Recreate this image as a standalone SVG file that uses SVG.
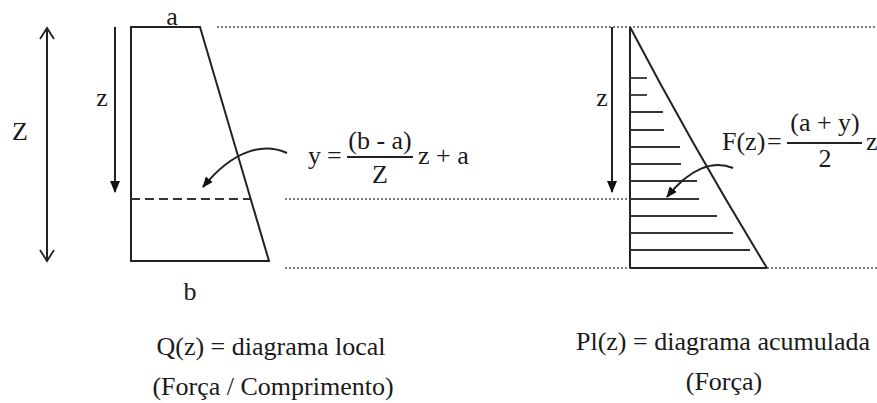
<svg xmlns="http://www.w3.org/2000/svg" width="877" height="403" viewBox="0 0 877 403">
<style>
.ln{stroke:#222;stroke-width:2;fill:none}
.ht{stroke:#333;stroke-width:1.8;fill:none}
.dot{stroke:#555;stroke-width:1.5;stroke-dasharray:2 2;fill:none}
.dash{stroke:#333;stroke-width:1.8;stroke-dasharray:9 5;fill:none}
.t{font-family:"Liberation Serif","Times New Roman",serif;font-size:26px;fill:#1a1a1a}
.m{text-anchor:middle}
</style>
<defs>
<marker id="ah" viewBox="0 0 12 10" refX="11" refY="5" markerWidth="12" markerHeight="10" orient="auto" markerUnits="userSpaceOnUse"><path d="M0,0 L12,5 L0,10 z" fill="#111"/></marker>
<marker id="ahs" viewBox="0 0 11 9" refX="10" refY="4.5" markerWidth="11" markerHeight="9" orient="auto" markerUnits="userSpaceOnUse"><path d="M0,0 L11,4.5 L0,9 z" fill="#111"/></marker>
<marker id="oa" viewBox="0 0 12 16" refX="11" refY="8" markerWidth="12" markerHeight="16" orient="auto-start-reverse" markerUnits="userSpaceOnUse" overflow="visible"><path d="M0,1 L11,8 L0,15" fill="none" stroke="#222" stroke-width="1.8"/></marker>
</defs>

<g id="guides">
<line class="dot" x1="217" y1="27" x2="877" y2="27"/>
<line class="dot" x1="285" y1="199" x2="668" y2="199"/>
<line class="dot" x1="285" y1="268" x2="630" y2="268"/>
<line class="dot" x1="767" y1="268" x2="877" y2="268"/>
</g>

<g id="local-diagram">
<polygon class="ln" points="131,27 200,27 269,261 131,261"/>
<line class="dash" x1="131" y1="199" x2="250" y2="199"/>
<text class="t m" x="172" y="25">a</text>
<text class="t m" x="190" y="300">b</text>
</g>

<g id="accumulated-diagram">
<line class="ln" x1="630" y1="27" x2="630" y2="268"/>
<line class="ln" x1="630" y1="268" x2="767" y2="268"/>
<path class="ln" d="M630,27 Q693,147 767,268"/>
<g class="ht">
<line x1="630" y1="78" x2="647" y2="78"/>
<line x1="630" y1="95" x2="647" y2="95"/>
<line x1="630" y1="112" x2="663" y2="112"/>
<line x1="630" y1="130" x2="664" y2="130"/>
<line x1="630" y1="147" x2="680" y2="147"/>
<line x1="630" y1="164" x2="681" y2="164"/>
<line x1="630" y1="181" x2="697" y2="181"/>
<line x1="630" y1="199" x2="699" y2="199"/>
<line x1="630" y1="216" x2="717" y2="216"/>
<line x1="630" y1="233" x2="733" y2="233"/>
<line x1="630" y1="250" x2="750" y2="250"/>
</g>
</g>

<g id="connectors">
<line class="ln" x1="47" y1="28" x2="47" y2="261" marker-start="url(#oa)" marker-end="url(#oa)"/>
<line class="ln" x1="115" y1="27" x2="115" y2="192" marker-end="url(#ah)"/>
<line class="ln" x1="612" y1="27" x2="612" y2="192" marker-end="url(#ah)"/>
<path class="ln" d="M287,153 C265,143 235,148 203,187" marker-end="url(#ahs)"/>
<path class="ln" d="M733,168 C713,160 690,168 667,197" marker-end="url(#ahs)"/>
</g>

<g id="labels">
<text class="t m" x="20" y="140">Z</text>
<text class="t m" x="102" y="106">z</text>
<text class="t m" x="602" y="106">z</text>

<text class="t" x="308" y="164">y</text>
<text class="t" x="327" y="164">=</text>
<line class="ln" x1="347" y1="157" x2="413" y2="157" stroke-width="1.6"/>
<text class="t m" x="380" y="149">(b - a)</text>
<text class="t m" x="380" y="183">Z</text>
<text class="t" x="418" y="164">z + a</text>

<text class="t" x="722" y="150">F(z)</text>
<text class="t" x="767" y="150">=</text>
<line class="ln" x1="787" y1="143" x2="862" y2="143" stroke-width="1.6"/>
<text class="t m" x="825" y="131">(a + y)</text>
<text class="t m" x="825" y="167">2</text>
<text class="t" x="866" y="150">z</text>

<text class="t m" x="271" y="355">Q(z) = diagrama local</text>
<text class="t m" x="273" y="395">(Força / Comprimento)</text>
<text class="t m" x="723" y="350">Pl(z) = diagrama acumulada</text>
<text class="t m" x="724" y="390">(Força)</text>
</g>
</svg>
